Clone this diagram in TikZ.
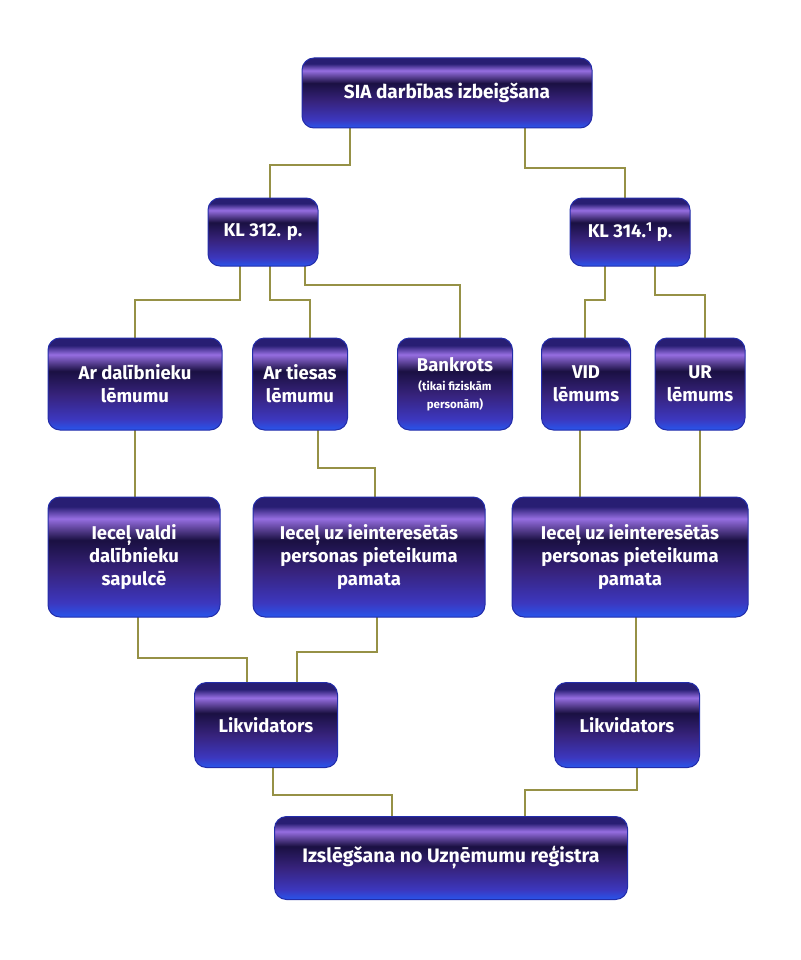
\documentclass[tikz,border=0pt]{standalone}
\usepackage{fontspec}
\setmainfont{Fira Sans}
\usetikzlibrary{backgrounds}
\definecolor{gB}{RGB}{40,85,235}
\definecolor{g1}{RGB}{60,55,190}
\definecolor{g2}{RGB}{55,35,125}
\definecolor{g3}{RGB}{26,16,66}
\definecolor{g4}{RGB}{150,110,225}
\definecolor{g5}{RGB}{40,30,115}
\definecolor{rim}{RGB}{35,45,170}
\definecolor{wireD}{RGB}{55,55,20}
\definecolor{wireL}{RGB}{150,145,70}
\pgfdeclareverticalshading{glossy}{100bp}{color(0bp)=(gB); color(25bp)=(gB); color(31bp)=(g1); color(44bp)=(g2); color(57bp)=(g3); color(66bp)=(g4); color(71bp)=(g5); color(75bp)=(g5); color(100bp)=(g5)}
\tikzset{
  gbox/.style={rounded corners=12pt, shading=glossy, draw=rim, line width=1pt,
    text=white, align=center, inner sep=2pt,
    font=\bfseries\fontsize{18.5}{23}\selectfont},
  wire/.style={draw=wireL, line width=1.2pt, preaction={draw=wireD, line width=2.4pt}}
}
\begin{document}
\begin{tikzpicture}[x=1pt,y=-1pt]
\useasboundingbox (0,0) rectangle (800,960);
\node[gbox, minimum width=290, minimum height=70, font=\bfseries\fontsize{19}{23}\selectfont] (top) at (447,93) {SIA darbības izbeigšana};
\node[gbox, minimum width=110, minimum height=68] (kla) at (263,232) {KL 312. p.};
\node[gbox, minimum width=120, minimum height=68] (klb) at (630,232) {KL 314.\textsuperscript{1} p.};
\node[gbox, minimum width=174, minimum height=92] (ard) at (135,384) {Ar dalībnieku\\lēmumu};
\node[gbox, minimum width=95, minimum height=92] (art) at (300,384) {Ar tiesas\\lēmumu};
\node[gbox, minimum width=115, minimum height=92] (bank) at (455,384) {Bankrots\\[-4pt]{\fontsize{11.5}{13}\selectfont (tikai fiziskām}\\[-5pt]{\fontsize{11.5}{13}\selectfont personām)}};
\node[gbox, minimum width=89, minimum height=92] (vid) at (586,384) {VID\\lēmums};
\node[gbox, minimum width=90, minimum height=92] (ur) at (700,384) {UR\\lēmums};
\node[gbox, minimum width=172, minimum height=120] (iva) at (134,557) {Ieceļ valdi\\dalībnieku\\sapulcē};
\node[gbox, minimum width=232, minimum height=120] (ivm) at (369,557) {Ieceļ uz ieinteresētās\\personas pieteikuma\\pamata};
\node[gbox, minimum width=236, minimum height=120] (ivr) at (630,557) {Ieceļ uz ieinteresētās\\personas pieteikuma\\pamata};
\node[gbox, minimum width=143, minimum height=85] (lika) at (266,725) {Likvidators};
\node[gbox, minimum width=145, minimum height=85] (likb) at (627,725) {Likvidators};
\node[gbox, minimum width=353, minimum height=83, font=\bfseries\fontsize{19.5}{23}\selectfont] (bot) at (451,858) {Izslēgšana no Uzņēmumu reģistra};
\begin{scope}[on background layer]
\draw[wire] ([xshift=-97pt]top.center) -- ++(0,72) -| ([xshift=7pt]kla.center);
\draw[wire] ([xshift=78pt]top.center) -- ++(0,75) -| ([xshift=-5pt]klb.center);
\draw[wire] ([xshift=-23pt]kla.center) -- ++(0,68) -| (ard.center);
\draw[wire] ([xshift=7pt]kla.center) -- ++(0,68) -| ([xshift=10pt]art.center);
\draw[wire] ([xshift=42pt]kla.center) -- ++(0,53) -| ([xshift=5pt]bank.center);
\draw[wire] ([xshift=-25pt]klb.center) -- ++(0,68) -| ([xshift=-1pt]vid.center);
\draw[wire] ([xshift=25pt]klb.center) -- ++(0,63) -| ([xshift=5pt]ur.center);
\draw[wire] (ard.center) -- (ard.center |- iva.center);
\draw[wire] ([xshift=18pt]art.center) -- ++(0,84) -| ([xshift=6pt]ivm.center);
\draw[wire] ([xshift=-6pt]vid.center) -- ([xshift=-6pt]vid.center |- ivr.center);
\draw[wire] (ur.center) -- (ur.center |- ivr.center);
\draw[wire] ([xshift=4pt]iva.center) -- ++(0,101) -| ([xshift=-19pt]lika.center);
\draw[wire] ([xshift=8pt]ivm.center) -- ++(0,95) -| ([xshift=31pt]lika.center);
\draw[wire] ([xshift=6pt]ivr.center) -- ([xshift=6pt]ivr.center |- likb.center);
\draw[wire] ([xshift=7pt]lika.center) -- ++(0,70) -| ([xshift=-59pt]bot.center);
\draw[wire] ([xshift=10pt]likb.center) -- ++(0,65) -| ([xshift=74pt]bot.center);
\end{scope}
\end{tikzpicture}
\end{document}
